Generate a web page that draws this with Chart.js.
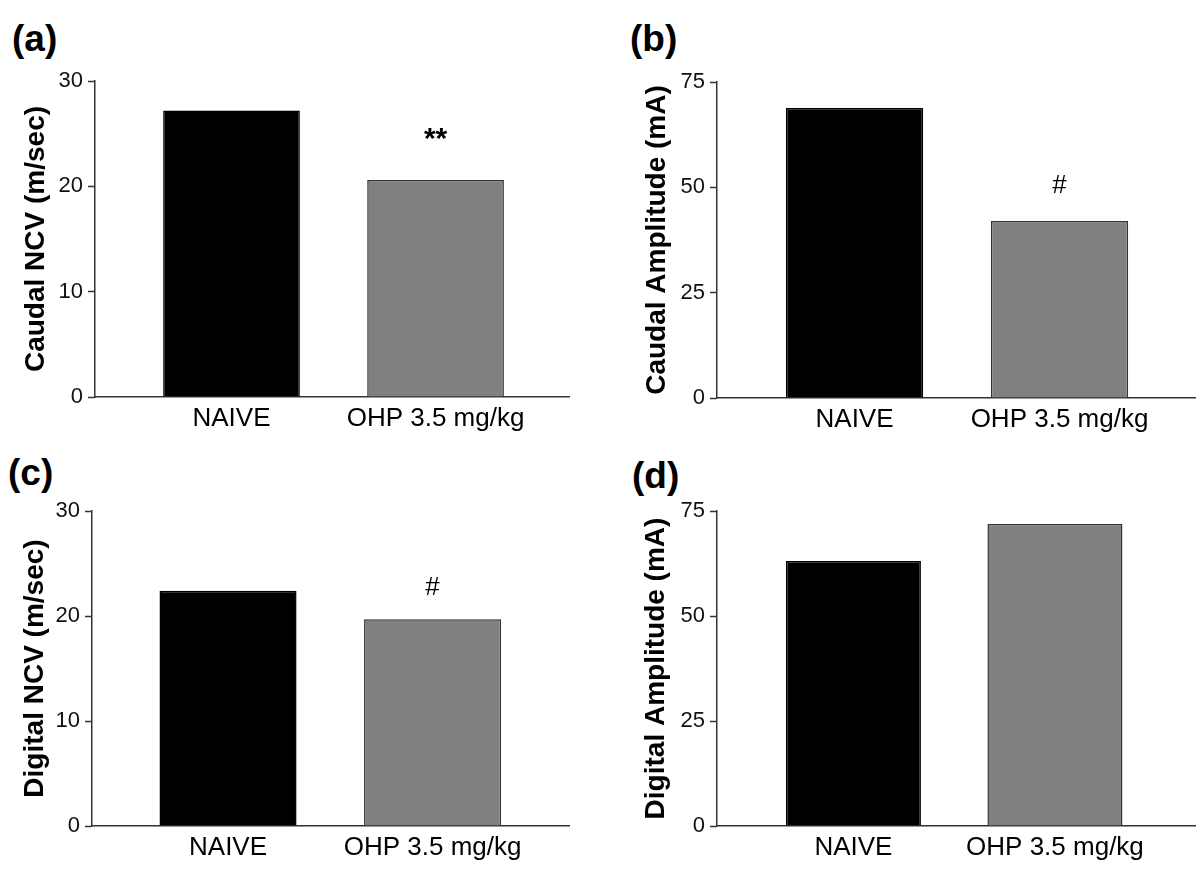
<!DOCTYPE html>
<html>
<head>
<meta charset="utf-8">
<script src="https://cdn.jsdelivr.net/npm/chart.js@4.4.0/dist/chart.umd.min.js"></script>
<style>
    body { margin: 0; background: #fff; }
    #wrap { position: relative; width: 1200px; height: 877px; overflow: hidden; }
    canvas { position: absolute; }
    .tag { position: absolute; font: bold 37px "Liberation Sans", Arial, sans-serif; line-height: 1; color: #000; }
</style>
</head>
<body>
<div id="wrap">
    <div class="tag" style="left:12px; top:20px;">(a)</div>
    <div class="tag" style="left:630px; top:20px;">(b)</div>
    <div class="tag" style="left:8px; top:454px;">(c)</div>
    <div class="tag" style="left:632px; top:457px;">(d)</div>
    <canvas id="chart-a" width="600" height="438" style="left:0; top:0;"></canvas>
    <canvas id="chart-b" width="600" height="438" style="left:600px; top:0;"></canvas>
    <canvas id="chart-c" width="600" height="439" style="left:0; top:438px;"></canvas>
    <canvas id="chart-d" width="600" height="439" style="left:600px; top:438px;"></canvas>
</div>
<script>
const FONT = '"Liberation Sans", Arial, sans-serif';

// data
const groups = ['NAIVE', 'OHP 3.5 mg/kg'];
const caudalNcv = [27.2, 20.6];
const caudalAmp = [68.8, 42.0];
const digitalNcv = [22.4, 19.7];
const digitalAmp = [63.1, 71.9];
const caudalNcvMarks = ['', '**'];
const caudalAmpMarks = ['', '#'];
const digitalNcvMarks = ['', '#'];
const digitalAmpMarks = ['', ''];
const ncvTicks = [0, 10, 20, 30];
const ampTicks = [0, 25, 50, 75];
const barColors = ['#000000', '#808080'];
const barBorders = ['#000000', '#333333'];

// draws the significance marks above the bars
const marksPlugin = {
    id: 'marks',
    afterDatasetsDraw(chart, args, opts) {
        const ctx = chart.ctx;
        const meta = chart.getDatasetMeta(0);
        ctx.save();
        ctx.fillStyle = '#000';
        ctx.textAlign = 'center';
        ctx.textBaseline = 'middle';
        opts.marks.forEach((m, i) => {
            if (!m) return;
            const bar = meta.data[i];
            // asterisks are drawn a bit larger and bolder, like the original
            ctx.font = (m.includes('*') ? 'bold 30px ' : '26px ') + FONT;
            ctx.fillText(m, bar.x, bar.y - opts.gap);
        });
        ctx.restore();
    }
};

function makePanel(id, values, ticks, title, marks, box) {
    const canvas = document.getElementById(id);
    return new Chart(canvas, {
        type: 'bar',
        data: {
            datasets: [{
                data: values.map((v, i) => ({ x: i + 1, y: v })),
                backgroundColor: barColors,
                borderColor: barBorders,
                borderWidth: 1.5,
                categoryPercentage: 1,
                barPercentage: 0.67
            }]
        },
        plugins: [marksPlugin],
        options: {
            responsive: false,
            animation: false,
            events: [],
            layout: {
                padding: { left: box.padLeft, top: box.top, right: canvas.width - box.right, bottom: 0 }
            },
            plugins: {
                legend: { display: false },
                tooltip: { enabled: false },
                marks: { marks, gap: box.gap }
            },
            scales: {
                x: {
                    type: 'linear',
                    offset: false,
                    min: box.xMin,
                    max: box.xMax,
                    afterBuildTicks: s => { s.ticks = groups.map((g, i) => ({ value: i + 1 })); },
                    afterFit: s => { s.height = canvas.height - box.bottom; },
                    grid: { display: false, drawTicks: false },
                    border: { display: true, color: '#333', width: 1.5 },
                    ticks: {
                        callback: v => groups[v - 1],
                        color: '#000',
                        font: { size: 26, family: FONT },
                        padding: 6,
                        maxRotation: 0,
                        autoSkip: false
                    }
                },
                y: {
                    min: ticks[0],
                    max: ticks[ticks.length - 1],
                    afterBuildTicks: s => { s.ticks = ticks.map(v => ({ value: v })); },
                    afterFit: s => { s.width = box.axisLeft - box.padLeft; },
                    grid: { drawOnChartArea: false, drawTicks: true, tickLength: 7, tickColor: '#333', tickWidth: 1.5 },
                    border: { display: true, color: '#333', width: 1.5 },
                    ticks: { color: '#111', font: { size: 22, family: FONT }, padding: 5 },
                    title: {
                        display: true,
                        text: title,
                        color: '#000',
                        font: { size: 28, weight: 'bold', family: FONT },
                        padding: { top: 4, bottom: 4 }
                    }
                }
            }
        }
    });
}

makePanel('chart-a', caudalNcv, ncvTicks, 'Caudal NCV (m/sec)', caudalNcvMarks,
    { padLeft: 15, axisLeft: 95, top: 81, bottom: 397, right: 569, xMin: 0.331, xMax: 2.654, gap: 40 });
makePanel('chart-b', caudalAmp, ampTicks, 'Caudal Amplitude (mA)', caudalAmpMarks,
    { padLeft: 36, axisLeft: 117, top: 82, bottom: 398, right: 595, xMin: 0.329, xMax: 2.661, gap: 35 });
makePanel('chart-c', digitalNcv, ncvTicks, 'Digital NCV (m/sec)', digitalNcvMarks,
    { padLeft: 14, axisLeft: 92, top: 73, bottom: 388, right: 569, xMin: 0.335, xMax: 2.667, gap: 31 });
makePanel('chart-d', digitalAmp, ampTicks, 'Digital Amplitude (mA)', digitalAmpMarks,
    { padLeft: 35, axisLeft: 117, top: 73, bottom: 388, right: 595, xMin: 0.323, xMax: 2.695, gap: 31 });
</script>
</body>
</html>
